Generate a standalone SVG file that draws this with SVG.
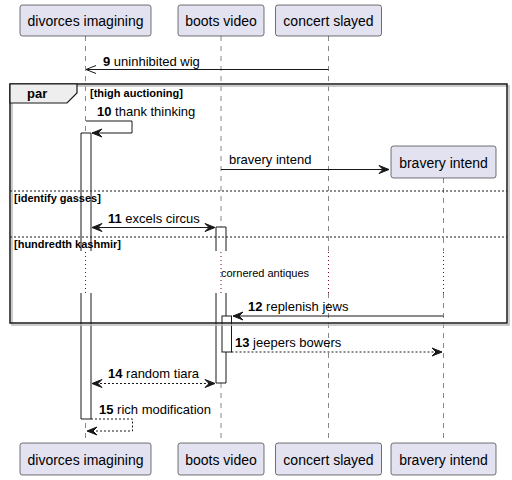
<svg xmlns="http://www.w3.org/2000/svg" width="512" height="480" viewBox="0 0 512 480">
<defs>
<style>
.pbox{fill:#E2E2F0;stroke:#181818;stroke-width:0.6}
.ptxt{font-family:"Liberation Sans",Arial,sans-serif;font-size:14px;fill:#000;text-anchor:middle}
.life{stroke:#555;stroke-width:0.7;stroke-dasharray:5,5;fill:none}
.delay{stroke:#800040;stroke-width:1;stroke-dasharray:1,3;fill:none}
.msg{stroke:#181818;stroke-width:1;fill:none}
.dash{stroke:#181818;stroke-width:1;stroke-dasharray:2,2;fill:none}
.head{fill:#181818;stroke:#181818;stroke-width:1}
.mtxt{font-family:"Liberation Sans",Arial,sans-serif;font-size:13px;fill:#000}
.num{font-weight:bold}
.grp{font-family:"Liberation Sans",Arial,sans-serif;font-size:11px;font-weight:bold;fill:#000}
.act{fill:#fff;stroke:#181818;stroke-width:1}
.sep{stroke:#181818;stroke-width:1;stroke-dasharray:2,2}
</style>
</defs>

<g id="lifelines">
<line class="life" x1="85.5" y1="36" x2="85.5" y2="251"/>
<line class="life" x1="85.5" y1="293" x2="85.5" y2="443"/>
<line class="life" x1="221" y1="36" x2="221" y2="251"/>
<line class="life" x1="221" y1="293" x2="221" y2="443"/>
<line class="life" x1="328.5" y1="36" x2="328.5" y2="251"/>
<line class="life" x1="328.5" y1="293" x2="328.5" y2="443"/>
<line class="life" x1="443.5" y1="178" x2="443.5" y2="251"/>
<line class="life" x1="443.5" y1="293" x2="443.5" y2="443"/>
<line class="delay" x1="85.5" y1="252" x2="85.5" y2="293"/>
<line class="delay" x1="221" y1="252" x2="221" y2="293"/>
<line class="delay" x1="328.5" y1="252" x2="328.5" y2="293"/>
<line class="delay" x1="443.5" y1="252" x2="443.5" y2="293"/>
</g>

<g id="activations">
<path class="act" d="M81,251 L81,133 L91,133 L91,251"/>
<path class="act" d="M81,293 L81,419 L91,419 L91,293"/>
<path class="act" d="M216,251 L216,227 L226,227 L226,251"/>
<path class="act" d="M216,293 L216,383 L226,383 L226,293"/>
<rect class="act" x="222" y="316" width="9.5" height="36"/>
</g>

<g id="frame-par">
<rect x="12" y="86" width="497" height="239" fill="none" stroke="#bbb" stroke-width="1.5"/>
<rect x="10" y="84" width="497" height="239" fill="none" stroke="#181818" stroke-width="1.5"/>
<polygon points="10,84 77,84 77,93 67,103 10,103" fill="#EEEEEE" stroke="#181818" stroke-width="1.2"/>
<text x="27" y="98" class="mtxt" font-weight="bold">par</text>
<text x="90" y="97" class="grp">[thigh auctioning]</text>
<line class="sep" x1="10" y1="191" x2="507" y2="191"/>
<text x="14" y="202" class="grp">[identify gasses]</text>
<line class="sep" x1="10" y1="237" x2="507" y2="237"/>
<text x="14" y="248" class="grp">[hundredth kashmir]</text>
</g>

<g id="connectors">
<!-- 9 -->
<line class="msg" x1="328.5" y1="69.5" x2="86" y2="69.5"/>
<polyline class="msg" points="96,65.5 86,69.5 96,73.5"/>
<text x="103" y="65.5" class="mtxt"><tspan class="num">9</tspan> uninhibited wig</text>
<!-- 10 -->
<polyline class="msg" points="86,121 132,121 132,133 92,133"/>
<polygon class="head" points="102,129 92,133 102,137 98,133"/>
<text x="97" y="116" class="mtxt"><tspan class="num">10</tspan> thank thinking</text>
<!-- create -->
<line class="msg" x1="221" y1="169.5" x2="389" y2="169.5"/>
<polygon class="head" points="379,165.5 389,169.5 379,173.5 383,169.5"/>
<text x="229" y="164" class="mtxt">bravery intend</text>
<!-- 11 -->
<line class="msg" x1="92" y1="227.5" x2="215" y2="227.5"/>
<polygon class="head" points="102,223.5 92,227.5 102,231.5 98,227.5"/>
<polygon class="head" points="205,223.5 215,227.5 205,231.5 209,227.5"/>
<text x="108" y="222.5" class="mtxt"><tspan class="num">11</tspan> excels circus</text>
<!-- delay text -->
<text x="221" y="277" font-family="Liberation Sans,Arial,sans-serif" font-size="11" fill="#000">cornered antiques</text>
<!-- 12 -->
<line class="msg" x1="443.5" y1="316" x2="233" y2="316"/>
<polygon class="head" points="243,312 233,316 243,320 239,316"/>
<text x="248" y="311" class="mtxt"><tspan class="num">12</tspan> replenish jews</text>
<!-- 13 -->
<line class="dash" x1="231.5" y1="352" x2="442" y2="352"/>
<polygon class="head" points="432,348 442,352 432,356 436,352"/>
<text x="235" y="347" class="mtxt"><tspan class="num">13</tspan> jeepers bowers</text>
<!-- 14 -->
<line class="dash" x1="92" y1="383.5" x2="215" y2="383.5"/>
<polygon class="head" points="102,379.5 92,383.5 102,387.5 98,383.5"/>
<polygon class="head" points="205,379.5 215,383.5 205,387.5 209,383.5"/>
<text x="108" y="378" class="mtxt"><tspan class="num">14</tspan> random tiara</text>
<!-- 15 -->
<polyline class="dash" points="91,419 132.5,419 132.5,431 87,431"/>
<polygon class="head" points="97,427 87,431 97,435 93,431"/>
<text x="99" y="413.5" class="mtxt"><tspan class="num">15</tspan> rich modification</text>
</g>

<g id="p-divorces">
<rect class="pbox" x="20" y="5" width="131" height="31" rx="2.5"/>
<text class="ptxt" x="85.5" y="26">divorces imagining</text>
<rect class="pbox" x="20" y="443" width="131" height="32" rx="2.5"/>
<text class="ptxt" x="85.5" y="464.5">divorces imagining</text>
</g>
<g id="p-boots">
<rect class="pbox" x="178" y="5" width="86" height="31" rx="2.5"/>
<text class="ptxt" x="221" y="26">boots video</text>
<rect class="pbox" x="178" y="443" width="86" height="32" rx="2.5"/>
<text class="ptxt" x="221" y="464.5">boots video</text>
</g>
<g id="p-concert">
<rect class="pbox" x="275.5" y="5" width="106" height="31" rx="2.5"/>
<text class="ptxt" x="328.5" y="26">concert slayed</text>
<rect class="pbox" x="275.5" y="443" width="106" height="32" rx="2.5"/>
<text class="ptxt" x="328.5" y="464.5">concert slayed</text>
</g>
<g id="p-bravery">
<rect class="pbox" x="391" y="146" width="105" height="32" rx="2.5"/>
<text class="ptxt" x="443.5" y="167.5">bravery intend</text>
<rect class="pbox" x="391" y="443" width="105" height="32" rx="2.5"/>
<text class="ptxt" x="443.5" y="464.5">bravery intend</text>
</g>
</svg>
